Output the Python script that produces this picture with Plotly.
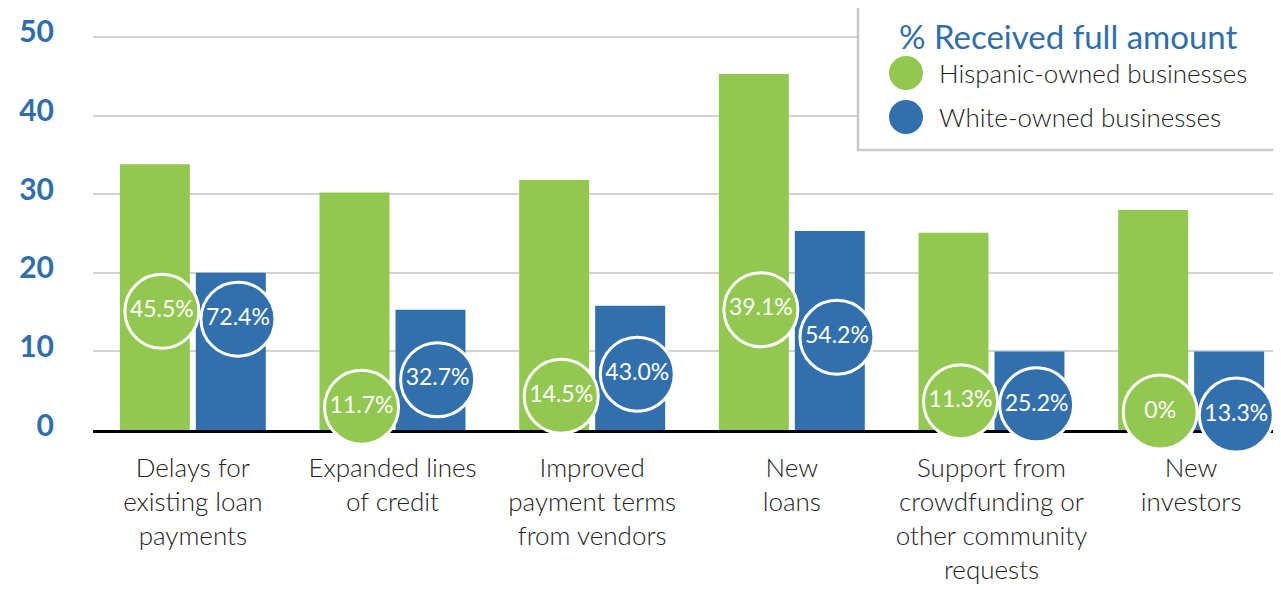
import plotly.graph_objects as go

# ---- data ----
categories = [
    "Delays for<br>existing loan<br>payments",
    "Expanded lines<br>of credit",
    "Improved<br>payment terms<br>from vendors",
    "New<br>loans",
    "Support from<br>crowdfunding or<br>other community<br>requests",
    "New<br>investors",
]
series_names = ["Hispanic-owned businesses", "White-owned businesses"]
hispanic = [33.8, 30.2, 31.8, 45.3, 25.1, 28.0]
white = [20.0, 15.3, 15.8, 25.3, 10.0, 10.0]
hispanic_full = ["45.5%", "11.7%", "14.5%", "39.1%", "11.3%", "0%"]
white_full = ["72.4%", "32.7%", "43.0%", "54.2%", "25.2%", "13.3%"]
legend_title = "% Received full amount"
y_ticks = [0, 10, 20, 30, 40, 50]

# ---- layout / placement (not data) ----
hisp_label_y = [15.1, 2.9, 4.3, 15.3, 3.6, 2.3]
white_label_y = [14.1, 6.4, 7.1, 11.8, 3.2, 1.9]
GREEN = "#92C850"
BLUE = "#3270AD"
AXIS_BLUE = "#2F6EAC"
TEXT = "#222222"
FONT = "Lato"

OFF = 8  # page body margin
W, H = 1281 - OFF, 590 - OFF
ML, MR, MT = 93 - OFF, 0, 33 - OFF
MB = H - (430 - OFF)
PW, PH = W - ML - MR, H - MT - MB

x_idx = list(range(len(categories)))

fig = go.Figure()
fig.add_trace(go.Bar(x=x_idx, y=hispanic, name=series_names[0],
                     marker=dict(color=GREEN, line=dict(width=0))))
fig.add_trace(go.Bar(x=x_idx, y=white, name=series_names[1],
                     marker=dict(color=BLUE, line=dict(width=0))))

g_off, b_off = -0.155, 0.226
for vals, ys, off, col in [(hispanic_full, hisp_label_y, g_off, GREEN),
                           (white_full, white_label_y, b_off, BLUE)]:
    fig.add_trace(go.Scatter(
        x=[i + off for i in x_idx], y=ys, mode="markers+text",
        text=vals, textposition="middle center",
        textfont=dict(family=FONT, size=23, color="white", weight=400),
        marker=dict(size=74, color=col, line=dict(color="white", width=3)),
        cliponaxis=False, showlegend=False, hoverinfo="skip"))

def px_x(px):
    return (px - OFF - ML) / PW

def px_y(py):
    return (H - MB - (py - OFF)) / PH

shapes = [
    dict(type="rect", xref="paper", yref="paper",
         x0=px_x(858), x1=px_x(1278), y0=px_y(150), y1=px_y(-5),
         fillcolor="white", line=dict(color="#C8C8C8", width=2.5), layer="above"),
]
annotations = [
    dict(text=legend_title, xref="paper", yref="paper", x=px_x(1068), y=px_y(36),
         xanchor="center", yanchor="middle", showarrow=False,
         font=dict(family=FONT, size=33, color=AXIS_BLUE)),
]
for name, col, cy in [(series_names[0], GREEN, 73), (series_names[1], BLUE, 117)]:
    shapes.append(dict(type="circle", xref="paper", yref="paper",
                       xsizemode="pixel", ysizemode="pixel",
                       xanchor=px_x(906), yanchor=px_y(cy),
                       x0=-17, x1=17, y0=-17, y1=17,
                       fillcolor=col, line=dict(width=0), layer="above"))
    annotations.append(dict(text=name, xref="paper", yref="paper",
                            x=px_x(937), y=px_y(cy), xanchor="left", yanchor="middle",
                            showarrow=False,
                            font=dict(family=FONT, size=26, color=TEXT, weight=300)))

fig.update_layout(
    width=W, height=H,
    margin=dict(l=ML, r=MR, t=MT, b=MB, pad=0),
    plot_bgcolor="white", paper_bgcolor="white",
    barmode="group", bargap=0.239, bargroupgap=0.079,
    showlegend=False,
    shapes=shapes, annotations=annotations,
    xaxis=dict(range=[-0.5, 5.45], tickmode="array", tickvals=x_idx, ticktext=categories,
               showgrid=False, zeroline=False, showline=True, linecolor="black",
               linewidth=3, ticks="", layer="below traces", ticklabelstandoff=13,
               tickfont=dict(family=FONT, size=26, color=TEXT, weight=300), fixedrange=True),
    yaxis=dict(range=[0, 50.5], tickmode="array", tickvals=y_ticks,
               showgrid=True, gridcolor="#D2D2D2", gridwidth=2, zeroline=False,
               showline=False, ticks="", ticklabelstandoff=38, ticklabelshift=-5,
               tickfont=dict(family=FONT, size=30, color=AXIS_BLUE, weight=700),
               fixedrange=True),
)

fig.write_html("out.html")
